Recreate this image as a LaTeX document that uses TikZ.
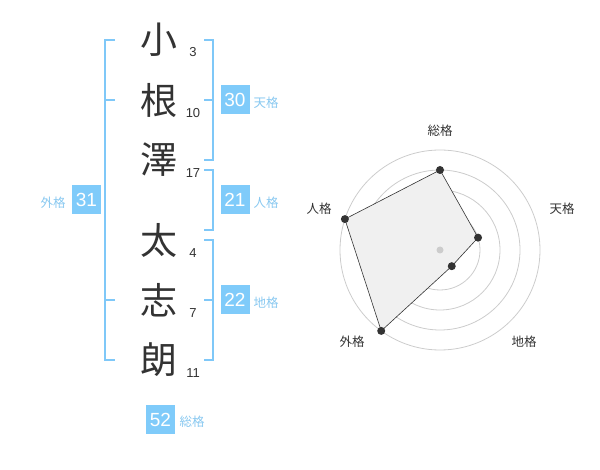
\documentclass[tikz,border=0pt]{standalone}
\usepackage{fontspec}
\setmainfont{Liberation Sans}
\newfontfamily\jp{Noto Sans CJK JP}
\usetikzlibrary{calc}
\definecolor{brk}{HTML}{7FC8F8}
\definecolor{boxc}{HTML}{7FCBFA}
\definecolor{lbl}{HTML}{88C8F0}
\definecolor{ink}{HTML}{333333}
\definecolor{ring}{HTML}{CCCCCC}
\definecolor{polyfill}{HTML}{F0F0F0}
\tikzset{
  kanji/.style={inner sep=0pt, text=ink, font=\jp\fontsize{37}{37}\selectfont},
  stroke/.style={inner sep=0pt, text=ink, font=\fontsize{13}{13}\selectfont},
  scorebox/.style={fill=boxc, text=white, minimum width=29pt, minimum height=29pt, inner sep=0pt, font=\fontsize{19}{19}\selectfont},
  scorelbl/.style={inner sep=0pt, text=lbl, font=\jp\fontsize{12.5}{12.5}\selectfont},
  bracket/.style={draw=brk, line width=2pt},
  ringline/.style={draw=ring, line width=0.8pt},
  axislbl/.style={inner sep=0pt, text=ink, font=\jp\fontsize{12.5}{12.5}\selectfont},
  dot/.style={circle, fill=ink, inner sep=0pt, minimum size=8pt},
}
\begin{document}
\begin{tikzpicture}[x=1pt,y=-1pt]
\useasboundingbox (0,0) rectangle (600,470);
% kanji
\node[kanji] (k1) at (159,40) {小};
\node[kanji] (k2) at (159,100) {根};
\node[kanji] (k3) at (159,160) {澤};
\node[kanji] (k4) at (159,240) {太};
\node[kanji] (k5) at (159,300) {志};
\node[kanji] (k6) at (159,360) {朗};
% stroke counts
\node[stroke] (s1) at (193,52) {3};
\node[stroke] (s2) at (193,113) {10};
\node[stroke] (s3) at (193,173) {17};
\node[stroke] (s4) at (193,253) {4};
\node[stroke] (s5) at (193,313) {7};
\node[stroke] (s6) at (193,373) {11};
% brackets
\coordinate (t1a) at (204,40); \coordinate (t1b) at (213,40);
\coordinate (t1c) at (213,160); \coordinate (t1d) at (204,160);
\coordinate (t1m) at (204,100); \coordinate (t1n) at (213,100);
\draw[bracket] (t1a) -- (t1b) -- (t1c) -- (t1d);
\draw[bracket] (t1m) -- (t1n);
\coordinate (j1a) at (204,170); \coordinate (j1b) at (213,170);
\coordinate (j1c) at (213,230); \coordinate (j1d) at (204,230);
\draw[bracket] (j1a) -- (j1b) -- (j1c) -- (j1d);
\coordinate (c1a) at (204,240); \coordinate (c1b) at (213,240);
\coordinate (c1c) at (213,360); \coordinate (c1d) at (204,360);
\coordinate (c1m) at (204,300); \coordinate (c1n) at (213,300);
\draw[bracket] (c1a) -- (c1b) -- (c1c) -- (c1d);
\draw[bracket] (c1m) -- (c1n);
\coordinate (g1a) at (115,40); \coordinate (g1b) at (105,40);
\coordinate (g1c) at (105,360); \coordinate (g1d) at (115,360);
\coordinate (g1m) at (115,100); \coordinate (g1n) at (105,100);
\coordinate (g1p) at (115,300); \coordinate (g1q) at (105,300);
\draw[bracket] (g1a) -- (g1b) -- (g1c) -- (g1d);
\draw[bracket] (g1m) -- (g1n);
\draw[bracket] (g1p) -- (g1q);
% score boxes
\node[scorebox] (b1) at (235,100) {30};
\node[scorelbl] (l1) at (266,103) {天格};
\node[scorebox] (b2) at (235,200) {21};
\node[scorelbl] (l2) at (266,203) {人格};
\node[scorebox] (b3) at (235,300) {22};
\node[scorelbl] (l3) at (266,303) {地格};
\node[scorebox] (b4) at (86.5,200) {31};
\node[scorelbl] (l4) at (53,203) {外格};
\node[scorebox] (b5) at (160.5,419.5) {52};
\node[scorelbl] (l5) at (192,422) {総格};
% radar
\coordinate (c) at (440,250);
\foreach \r in {20,40,60,80,100} \draw[ringline] (c) circle[radius=\r pt];
\coordinate (p1) at ($(c)+(90:80pt)$);
\coordinate (p2) at ($(c)+(18:40pt)$);
\coordinate (p3) at ($(c)+(-54:20pt)$);
\coordinate (p4) at ($(c)+(-126:100pt)$);
\coordinate (p5) at ($(c)+(162:100pt)$);
\draw[fill=polyfill, draw=ink, line width=0.6pt] (p1) -- (p2) -- (p3) -- (p4) -- (p5) -- cycle;
\node[circle, fill=ring, inner sep=0pt, minimum size=7pt] (cd) at (c) {};
\foreach \p in {p1,p2,p3,p4,p5} \node[dot] at (\p) {};
\node[axislbl] (a1) at (440,131) {総格};
\node[axislbl] (a2) at (562,209) {天格};
\node[axislbl] (a3) at (524,342) {地格};
\node[axislbl] (a4) at (352,342) {外格};
\node[axislbl] (a5) at (319,209) {人格};
\end{tikzpicture}
\end{document}
